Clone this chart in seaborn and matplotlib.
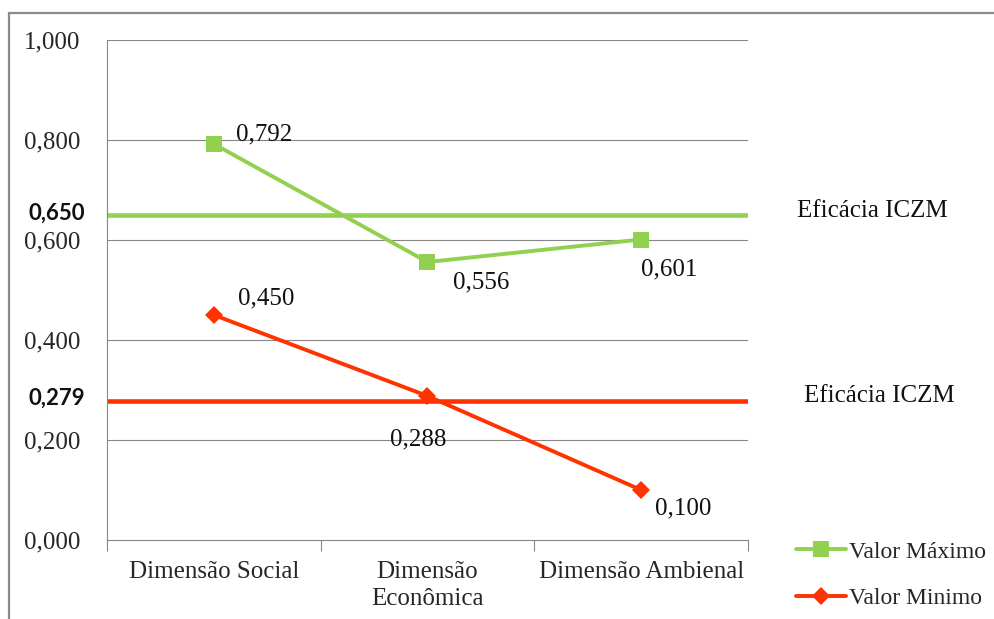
import matplotlib
matplotlib.use("Agg")
import matplotlib.pyplot as plt
from matplotlib.patches import Rectangle
from matplotlib.lines import Line2D
import matplotlib.transforms as mtransforms
import seaborn as sns
import pandas as pd

# Data
categories = ["Dimensão Social", "Dimensão\nEconômica", "Dimensão Ambienal"]
valor_maximo = [0.792, 0.556, 0.601]
valor_minimo = [0.450, 0.288, 0.100]
eficacia_max = 0.650
eficacia_min = 0.279
y_ticks = [0.0, 0.2, 0.4, 0.6, 0.8, 1.0]

GREEN = "#92D050"
RED = "#FF3300"
GRID = "#868686"
FS = 18

sns.set_style("white")
plt.rcParams["font.family"] = ["Liberation Serif", "DejaVu Serif"]

df = pd.DataFrame({
    "categoria": categories * 2,
    "valor": valor_maximo + valor_minimo,
    "serie": ["Valor Máximo"] * 3 + ["Valor Minimo"] * 3,
})

W, H = 994, 619
fig = plt.figure(figsize=(W / 100, H / 100), dpi=100)
ax = fig.add_axes([107 / W, (H - 540) / H, 641 / W, 500 / H])

# outer chart frame
fig.patches.append(Rectangle((9 / W, -0.05), 1.2, (H - 13) / H + 0.05,
                             transform=fig.transFigure, fill=False,
                             edgecolor="#8C8C8C", lw=1.6, zorder=0))

# gridlines
for v in y_ticks[1:]:
    ax.axhline(v, color=GRID, lw=0.8, zorder=1)

# reference levels
ax.axhline(eficacia_max, color=GREEN, lw=3.3, zorder=2)
ax.axhline(eficacia_min, color=RED, lw=3.3, zorder=2)

sns.lineplot(data=df, x="categoria", y="valor", hue="serie", style="serie",
             palette={"Valor Máximo": GREEN, "Valor Minimo": RED},
             markers={"Valor Máximo": "s", "Valor Minimo": "D"},
             dashes=False, linewidth=2.8, markersize=12, markeredgewidth=0,
             sort=False, legend=False, ax=ax, zorder=3)
# diamond slightly smaller than the square
for line in ax.lines:
    if line.get_marker() == "D":
        line.set_markersize(9.5)

ax.set_xlim(-0.5, 2.5)
ax.set_ylim(0, 1.0)
ax.set_xlabel("")
ax.set_ylabel("")

ax.set_yticks(y_ticks)
ax.set_yticklabels([f"{v:.3f}".replace(".", ",") for v in y_ticks])
ax.set_xticks(range(3))
ax.set_xticklabels(categories)
ax.set_xticks([-0.5, 0.5, 1.5, 2.5], minor=True)
ax.tick_params(axis="x", which="major", length=0, pad=15, labelsize=FS)
ax.tick_params(axis="x", which="minor", length=8, width=0.8, color=GRID,
               direction="out", bottom=True)
ax.tick_params(axis="y", length=0, pad=19, labelsize=FS)
for t in ax.get_xticklabels():
    t.set_linespacing(1.3)
    t.set_verticalalignment("top")

for s in ["top", "right"]:
    ax.spines[s].set_visible(False)
for s in ["left", "bottom"]:
    ax.spines[s].set_color(GRID)
    ax.spines[s].set_linewidth(0.8)

# value labels
offsets = {
    ("max", 0): (22, 10, "left", "center"),
    ("max", 1): (26, -20, "left", "center"),
    ("max", 2): (0, -30, "left", "center"),
    ("min", 0): (24, 17, "left", "center"),
    ("min", 1): (-37, -43, "left", "center"),
    ("min", 2): (14, -18, "left", "center"),
}
for key, vals in (("max", valor_maximo), ("min", valor_minimo)):
    for i, v in enumerate(vals):
        dx, dy, ha, va = offsets[(key, i)]
        ax.annotate(f"{v:.3f}".replace(".", ","), (i, v),
                    xytext=(dx * 0.72, dy * 0.72), textcoords="offset points",
                    ha=ha, va=va, fontsize=FS, color="#111111")

# reference level labels
trans = mtransforms.blended_transform_factory(ax.transAxes, ax.transData)
for val, xr in ((eficacia_max, 1.076), (eficacia_min, 1.088)):
    ax.text(xr, val + 0.008, "Eficácia ICZM", transform=trans, ha="left",
            va="center", fontsize=FS, color="#111111", clip_on=False)
for val in (eficacia_max, eficacia_min):
    ax.text(-0.034, val + 0.004, f"{val:.3f}".replace(".", ","), transform=trans,
            ha="right", va="center", fontsize=16, fontweight="bold",
            family=["Lato", "DejaVu Sans"], color="#111111", clip_on=False)

# legend
handles = [
    Line2D([], [], color=GREEN, lw=2.8, marker="s", markersize=12,
           markeredgewidth=0),
    Line2D([], [], color=RED, lw=2.8, marker="D", markersize=9.5,
           markeredgewidth=0),
]
fig.legend(handles, ["Valor Máximo", "Valor Minimo"], loc="upper left",
           bbox_to_anchor=(796 / W, (H - 541) / H), frameon=False,
           fontsize=17, handlelength=2.1, handletextpad=0.15,
           labelspacing=1.05, borderpad=0, borderaxespad=0)

fig.savefig("out.png", dpi=100)
